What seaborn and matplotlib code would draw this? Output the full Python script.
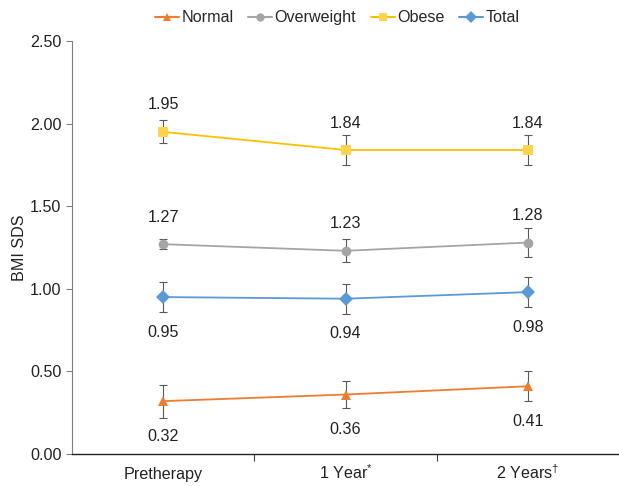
import pandas as pd
import seaborn as sns
import matplotlib.pyplot as plt
from matplotlib.ticker import FixedLocator

# Values
timepoints = ['Pretherapy', '1 Year$^{*}$', '2 Years$^{†}$']
groups = ['Normal', 'Overweight', 'Obese', 'Total']
normal = [0.32, 0.36, 0.41]
overweight = [1.27, 1.23, 1.28]
obese = [1.95, 1.84, 1.84]
total = [0.95, 0.94, 0.98]
normal_err = [0.10, 0.08, 0.09]
overweight_err = [0.03, 0.07, 0.09]
obese_err = [0.07, 0.09, 0.09]
total_err = [0.09, 0.09, 0.09]

colors = {'Normal': '#ED7D31', 'Overweight': '#A5A5A5', 'Obese': '#FFC000', 'Total': '#5B9BD5'}
marker_colors = {'Normal': '#ED7D31', 'Overweight': '#A5A5A5', 'Obese': '#FFD34D', 'Total': '#5B9BD5'}
markers = {'Normal': '^', 'Overweight': 'o', 'Obese': 's', 'Total': 'D'}
label_pos = {'Normal': 'below', 'Overweight': 'above', 'Obese': 'above', 'Total': 'below'}

values = {'Normal': normal, 'Overweight': overweight, 'Obese': obese, 'Total': total}
errors = {'Normal': normal_err, 'Overweight': overweight_err, 'Obese': obese_err, 'Total': total_err}

rows = []
for g in groups:
    for i, t in enumerate(timepoints):
        rows.append({'pos': i, 'time': t, 'group': g, 'bmi': values[g][i], 'err': errors[g][i]})
df = pd.DataFrame(rows)

sns.set_style('white')
plt.rcParams['font.family'] = ['Liberation Sans', 'DejaVu Sans']
plt.rcParams['mathtext.default'] = 'regular'
fs = 11.6

fig = plt.figure(figsize=(6.19, 4.86), dpi=100)
ax = fig.add_axes([72 / 619, 32 / 486, 547 / 619, 413 / 486])

# error bars first so lines sit on top
for g in groups:
    sub = df[df['group'] == g]
    ax.errorbar(sub['pos'], sub['bmi'], yerr=sub['err'], fmt='none',
                ecolor='#595959', elinewidth=0.8, capsize=3, capthick=0.8, zorder=2)

sns.lineplot(data=df, x='pos', y='bmi', hue='group', hue_order=groups, palette=colors,
             style='group', markers=markers, dashes=False, linewidth=1.3,
             markersize=7, markeredgewidth=0, ax=ax, zorder=3, legend=False)

# recolor markers (Obese marker is lighter than its line)
for line, g in zip(ax.get_lines()[-len(groups):], groups):
    line.set_markerfacecolor(marker_colors[g])
    line.set_markeredgecolor(marker_colors[g])

# value labels
for g in groups:
    for i, v in enumerate(values[g]):
        if label_pos[g] == 'above':
            ax.annotate(f'{v:.2f}', (i, v), xytext=(0, 14), textcoords='offset points',
                        ha='center', va='bottom', fontsize=fs, color='#222222')
        else:
            ax.annotate(f'{v:.2f}', (i, v), xytext=(0, -20), textcoords='offset points',
                        ha='center', va='top', fontsize=fs, color='#222222')

# legend
handles = [plt.Line2D([], [], color=colors[g], marker=markers[g], markerfacecolor=marker_colors[g],
                      markeredgewidth=0, markersize=6, linewidth=1.5) for g in groups]
fig.legend(handles, groups, loc='center', bbox_to_anchor=(0.545, 0.963), ncol=4, frameon=False,
           fontsize=fs, handlelength=1.5, handletextpad=0.15, columnspacing=0.9)

ax.set_xlim(-0.5, 2.5)
ax.set_ylim(0, 2.5)
ax.set_yticks([0, 0.5, 1.0, 1.5, 2.0, 2.5])
ax.set_yticklabels([f'{t:.2f}' for t in [0, 0.5, 1.0, 1.5, 2.0, 2.5]])
ax.set_xticks(range(len(timepoints)))
ax.set_xticklabels(timepoints)
for lbl in ax.get_xticklabels():
    lbl.set_verticalalignment('baseline')
ax.xaxis.set_minor_locator(FixedLocator([0.5, 1.5]))
ax.tick_params(axis='x', which='major', length=0, pad=18, labelsize=fs, colors='#222222')
ax.tick_params(axis='x', which='minor', length=5, width=0.8, color='#404040', bottom=True)
ax.tick_params(axis='y', length=4, width=0.8, color='#808080', labelsize=fs, labelcolor='#222222', left=True)
ax.set_xlabel('')
ax.set_ylabel('BMI SDS', fontsize=fs, color='#222222', labelpad=2)

sns.despine(ax=ax)
ax.spines['left'].set_color('#808080')
ax.spines['left'].set_linewidth(0.8)
ax.spines['bottom'].set_color('#222222')
ax.spines['bottom'].set_linewidth(1.0)

fig.savefig('out.png', dpi=100)
